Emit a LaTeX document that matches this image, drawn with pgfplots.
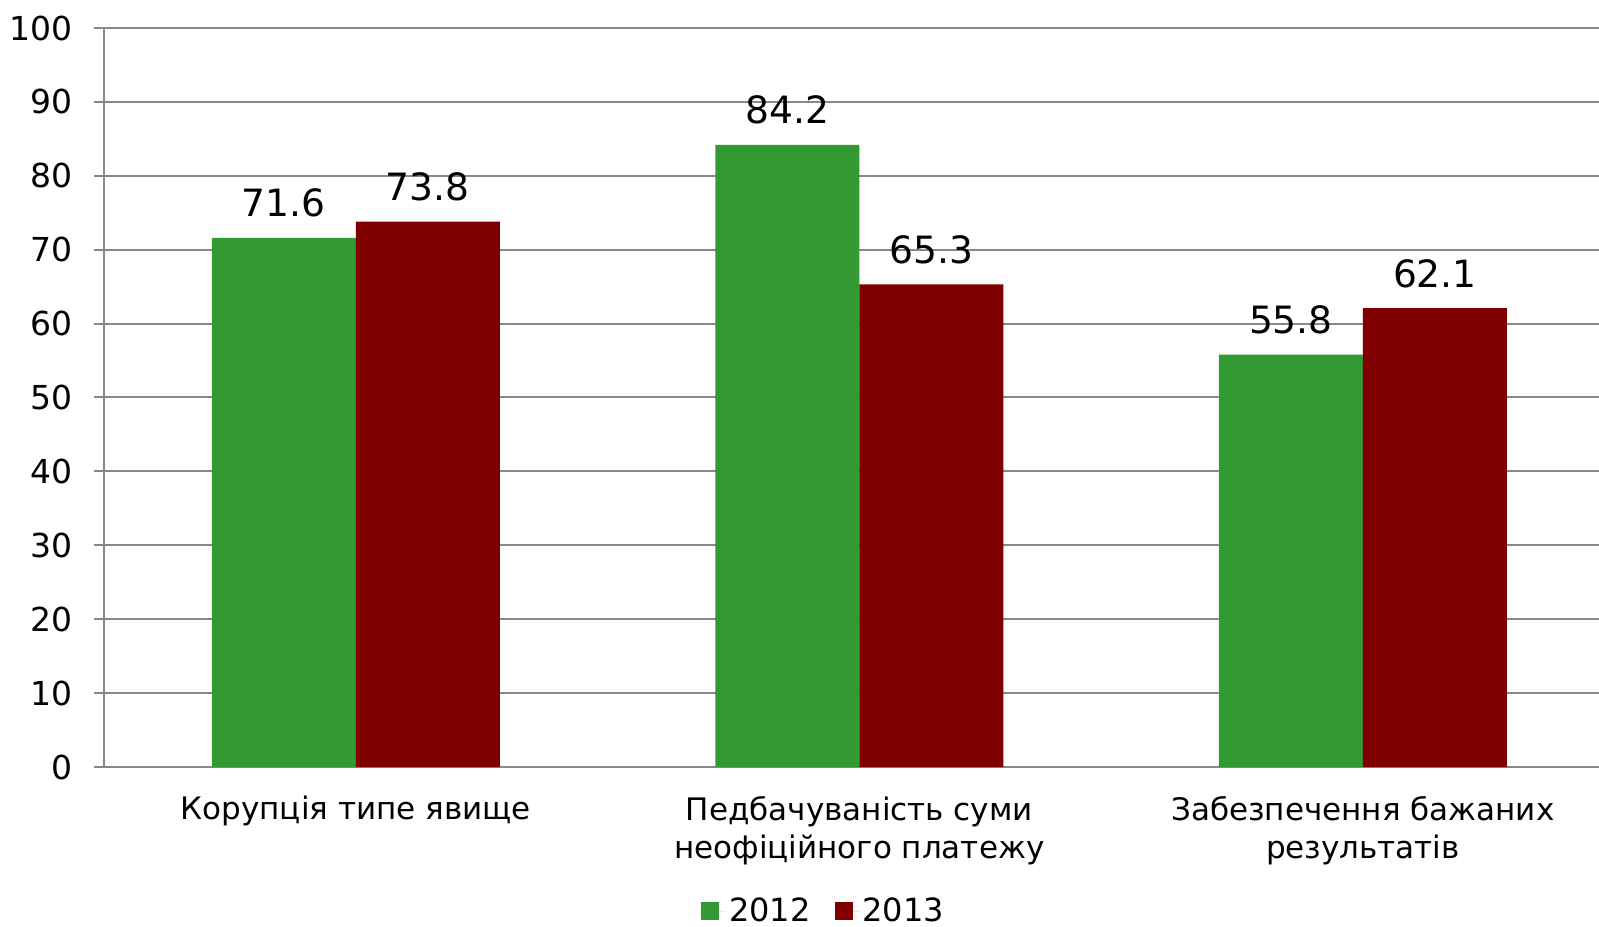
\documentclass[border=0pt]{standalone}
\usepackage{fontspec}
\setmainfont{DejaVu Sans}
\usepackage{pgfplots}
\pgfplotsset{compat=1.18}
\usetikzlibrary{calc}

\definecolor{bargreen}{RGB}{51,153,51}
\definecolor{barred}{RGB}{128,0,0}
\definecolor{gridgray}{RGB}{136,136,136}

\newcommand{\tickfont}{\fontsize{16.5}{19.3}\selectfont}
\newcommand{\catfont}{\fontsize{15.5}{19.3}\selectfont}
\newcommand{\valfont}{\fontsize{18.8}{22}\selectfont}

\begin{document}
\begin{tikzpicture}
	\begin{axis}[%
			name=ax,
			width=747.5pt,
			height=369.5pt,
			scale only axis,
			ybar=0pt,
			bar width=72pt,
			xmin=-0.5, xmax=2.469,
			ymin=0, ymax=100,
			ytick={0,10,...,100},
			xtick={0,1,2},
			xticklabels={Корупція типе явище,
				{Педбачуваність суми\\неофіційного платежу},
				{Забезпечення бажаних\\результатів}},
			x tick style={draw=none},
			extra x ticks={-0.5,0.5,1.5},
			extra x tick labels={},
			extra x tick style={
				major tick length=5.5pt,
				tick align=outside,
				tick style={draw=gridgray, line width=1pt},
				grid=none},
			y tick style={draw=gridgray, line width=1pt},
			major tick length=5pt,
			tick align=outside,
			axis x line*=bottom,
			axis y line*=left,
			axis line style={draw=gridgray, line width=1pt, -},
			ymajorgrids,
			grid style={draw=gridgray, line width=1pt},
			/pgf/number format/assume math mode=true,
			tick label style={font=\tickfont, text=black},
			xticklabel style={font=\catfont, align=center, anchor=north, yshift=-6pt},
			yticklabel style={anchor=east, xshift=-7pt},
			nodes near coords,
			nodes near coords style={font=\valfont, text=black, inner sep=0pt, anchor=south, yshift=10pt,
				/pgf/number format/.cd, fixed, precision=1, fixed zerofill, assume math mode=true},
			legend style={at={(0.482,-0.195)}, anchor=center, draw=none,
				font=\fontsize{16}{19}\selectfont, legend columns=2,
				/tikz/every even column/.append style={column sep=10pt}},
			legend image code/.code={\fill[#1] (0pt,-4.5pt) rectangle (9pt,4.5pt);
				\path (0pt,0pt) -- (12pt,0pt);},
			clip=false
		]

		\addplot [fill=bargreen, draw=none]
			coordinates{
				(0,71.6) (1,84.2) (2,55.8)
			};
		\addlegendentry{2012}

		\addplot [fill=barred, draw=none]
			coordinates{
				(0,73.8) (1,65.3) (2,62.1)
			};
		\addlegendentry{2013}

	\end{axis}
	\pgfresetboundingbox
	\path ($(ax.south west)+(-52pt,-79.5pt)$) rectangle ($(ax.north east)+(0pt,14pt)$);
\end{tikzpicture}
\end{document}
